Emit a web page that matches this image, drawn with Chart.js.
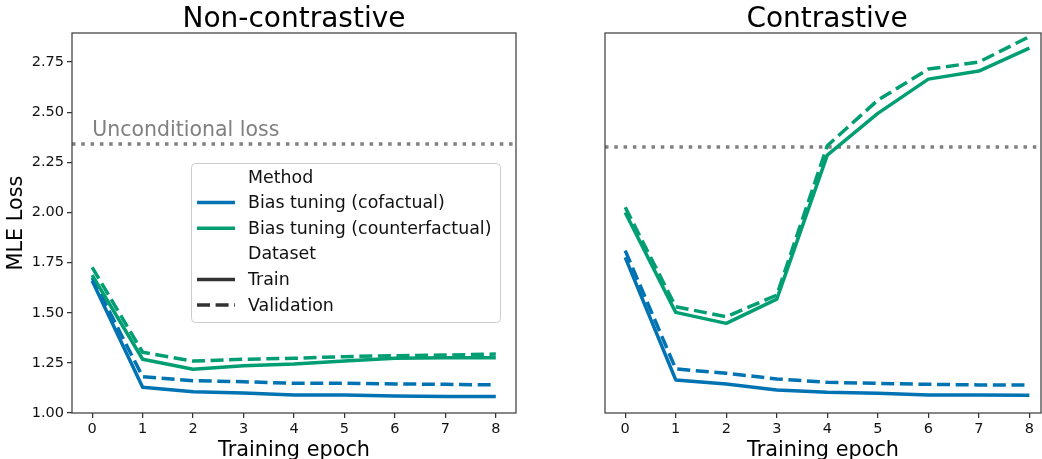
<!DOCTYPE html>
<html>
<head>
<meta charset="utf-8">
<script src="https://cdn.jsdelivr.net/npm/chart.js@4"></script>
<style>
  html, body { margin: 0; padding: 0; background: #fff; overflow: hidden; }
  #wrap { position: relative; width: 1042px; height: 459px; overflow: hidden; }
  .panel { position: absolute; top: 0; height: 459px; }
  #left { left: 0; width: 520px; }
  #right { left: 520px; width: 522px; }
</style>
</head>
<body>
<div id="wrap">
  <div class="panel" id="left"><canvas id="c1"></canvas></div>
  <div class="panel" id="right"><canvas id="c2"></canvas></div>
</div>
<script>
// ---- data ----
const epochs = [0, 1, 2, 3, 4, 5, 6, 7, 8];
const yTicks = [1.00, 1.25, 1.50, 1.75, 2.00, 2.25, 2.50, 2.75];

// Non-contrastive
const ncCofactualTrain = [1.66, 1.128, 1.106, 1.100, 1.090, 1.090, 1.085, 1.082, 1.082];
const ncCofactualVal = [1.675, 1.181, 1.161, 1.156, 1.148, 1.148, 1.145, 1.143, 1.140];
const ncCounterTrain = [1.688, 1.268, 1.218, 1.236, 1.244, 1.259, 1.273, 1.276, 1.276];
const ncCounterVal = [1.726, 1.303, 1.259, 1.268, 1.273, 1.281, 1.286, 1.289, 1.294];
const ncUnconditional = 2.341;

// Contrastive
const cCofactualTrain = [1.776, 1.165, 1.145, 1.115, 1.103, 1.098, 1.090, 1.090, 1.088];
const cCofactualVal = [1.810, 1.220, 1.198, 1.170, 1.153, 1.148, 1.143, 1.140, 1.140];
const cCounterTrain = [2.000, 1.502, 1.447, 1.568, 2.286, 2.494, 2.665, 2.705, 2.820];
const cCounterVal = [2.026, 1.530, 1.480, 1.588, 2.333, 2.560, 2.715, 2.750, 2.877];
const cUnconditional = 2.327;

const methodNames = ['Bias tuning (cofactual)', 'Bias tuning (counterfactual)'];
const datasetNames = ['Train', 'Validation'];

const BLUE = '#0173b2';
const GREEN = '#029e73';
const GRAY = '#808080';
const DARK = '#333333';
const FONT = "'DejaVu Sans', sans-serif";
const LW = 3.5;
const DASH = [13, 5.6];

function pts(vals) {
  return vals.map((v, i) => ({x: epochs[i], y: v}));
}

function makeDatasets(cofTrain, cofVal, cntTrain, cntVal) {
  return [
    {label: methodNames[0] + ' / ' + datasetNames[0], data: pts(cofTrain), borderColor: BLUE},
    {label: methodNames[1] + ' / ' + datasetNames[0], data: pts(cntTrain), borderColor: GREEN},
    {label: methodNames[0] + ' / ' + datasetNames[1], data: pts(cofVal), borderColor: BLUE, borderDash: DASH},
    {label: methodNames[1] + ' / ' + datasetNames[1], data: pts(cntVal), borderColor: GREEN, borderDash: DASH},
  ].map(d => Object.assign({
    borderWidth: LW, pointRadius: 0, tension: 0, fill: false,
    borderCapStyle: 'butt', borderJoinStyle: 'round'
  }, d));
}

// frame, title, horizontal reference line
const panelPlugin = {
  id: 'panel',
  beforeDatasetsDraw(chart, args, opts) {
    const {ctx, chartArea: a, scales} = chart;
    const y = scales.y.getPixelForValue(opts.hline);
    ctx.save();
    ctx.strokeStyle = GRAY;
    ctx.lineWidth = LW;
    ctx.setLineDash([3.5, 5.8]);
    ctx.beginPath();
    ctx.moveTo(a.left, y);
    ctx.lineTo(a.right, y);
    ctx.stroke();
    ctx.setLineDash([]);
    if (opts.hlineText) {
      ctx.fillStyle = GRAY;
      ctx.font = '20.5px ' + FONT;
      ctx.textAlign = 'left';
      ctx.textBaseline = 'alphabetic';
      ctx.fillText(opts.hlineText, scales.x.getPixelForValue(epochs[0]), y - 8);
    }
    ctx.restore();
  },
  afterDraw(chart, args, opts) {
    const {ctx, chartArea: a} = chart;
    ctx.save();
    ctx.strokeStyle = '#404040';
    ctx.lineWidth = 1.25;
    ctx.strokeRect(a.left, a.top, a.right - a.left, a.bottom - a.top);
    ctx.fillStyle = '#000';
    ctx.font = '28px ' + FONT;
    ctx.textAlign = 'center';
    ctx.textBaseline = 'alphabetic';
    ctx.fillText(opts.title, opts.titleX, 27);
    ctx.restore();
  }
};

// sectioned legend, seaborn-style
const legendPlugin = {
  id: 'sectionLegend',
  afterDatasetsDraw(chart, args, opts) {
    if (!opts.show) return;
    const ctx = chart.ctx;
    const x = 191, y = 163, w = 309, h = 159, r = 4;
    ctx.save();
    ctx.beginPath();
    ctx.roundRect(x + 0.5, y + 0.5, w, h, r);
    ctx.fillStyle = 'rgba(255,255,255,0.8)';
    ctx.fill();
    ctx.strokeStyle = '#cccccc';
    ctx.lineWidth = 1;
    ctx.stroke();

    const rows = [
      {text: 'Method'},
      {text: methodNames[0], color: BLUE},
      {text: methodNames[1], color: GREEN},
      {text: 'Dataset'},
      {text: datasetNames[0], color: DARK},
      {text: datasetNames[1], color: DARK, dash: DASH},
    ];
    ctx.font = '17.4px ' + FONT;
    ctx.textBaseline = 'middle';
    ctx.textAlign = 'left';
    rows.forEach((row, i) => {
      const cy = 177 + i * 25.6;
      if (row.color) {
        ctx.strokeStyle = row.color;
        ctx.lineWidth = LW;
        ctx.setLineDash(row.dash || []);
        ctx.beginPath();
        ctx.moveTo(197, cy);
        ctx.lineTo(235, cy);
        ctx.stroke();
        ctx.setLineDash([]);
      }
      ctx.fillStyle = '#111';
      ctx.fillText(row.text, 248, cy + 1);
    });
    ctx.restore();
  }
};

function makeChart(id, datasets, opts) {
  return new Chart(document.getElementById(id), {
    type: 'line',
    data: {datasets},
    plugins: [panelPlugin, legendPlugin],
    options: {
      responsive: true,
      maintainAspectRatio: false,
      animation: false,
      events: [],
      layout: {padding: {top: 33, right: opts.padRight, left: 0, bottom: 0}},
      plugins: {
        legend: {display: false},
        tooltip: {enabled: false},
        panel: {title: opts.title, titleX: opts.titleX, hline: opts.hline, hlineText: opts.hlineText},
        sectionLegend: {show: opts.legend}
      },
      scales: {
        x: {
          type: 'linear',
          min: -0.4,
          max: opts.xMax,
          afterBuildTicks: s => { s.ticks = epochs.map(v => ({value: v})); },
          afterFit: s => { s.height = 46; },
          border: {display: false},
          grid: {drawOnChartArea: false, drawTicks: true, tickLength: 5, color: DARK, lineWidth: 1.25},
          ticks: {color: '#111', font: {family: FONT, size: 14.5}, padding: 3, maxRotation: 0, callback: v => String(v)},
          title: {display: true, text: 'Training epoch', color: '#000', font: {family: FONT, size: 20.8, lineHeight: 0.8}, padding: {top: 0, bottom: 0}}
        },
        y: {
          type: 'linear',
          display: true,
          min: 1.0,
          max: 2.895,
          afterBuildTicks: s => { s.ticks = yTicks.map(v => ({value: v})); },
          afterFit: s => { s.width = opts.yWidth; },
          border: {display: false},
          grid: {display: opts.showY, drawOnChartArea: false, drawTicks: true, tickLength: 5, color: DARK, lineWidth: 1.25},
          ticks: {display: opts.showY, color: '#111', font: {family: FONT, size: 14.5}, padding: 3, callback: v => v.toFixed(2)},
          title: {display: opts.showY, text: 'MLE Loss', color: '#000', font: {family: FONT, size: 20.8}, padding: {top: 4, bottom: 0}}
        }
      }
    }
  });
}

makeChart('c1', makeDatasets(ncCofactualTrain, ncCofactualVal, ncCounterTrain, ncCounterVal), {
  title: 'Non-contrastive', titleX: 294, hline: ncUnconditional, hlineText: 'Unconditional loss',
  legend: true, showY: true, yWidth: 72, padRight: 4, xMax: 8.4
});
makeChart('c2', makeDatasets(cCofactualTrain, cCofactualVal, cCounterTrain, cCounterVal), {
  title: 'Contrastive', titleX: 307, hline: cUnconditional, hlineText: null,
  legend: false, showY: false, yWidth: 85, padRight: 1, xMax: 8.23
});
</script>
</body>
</html>
